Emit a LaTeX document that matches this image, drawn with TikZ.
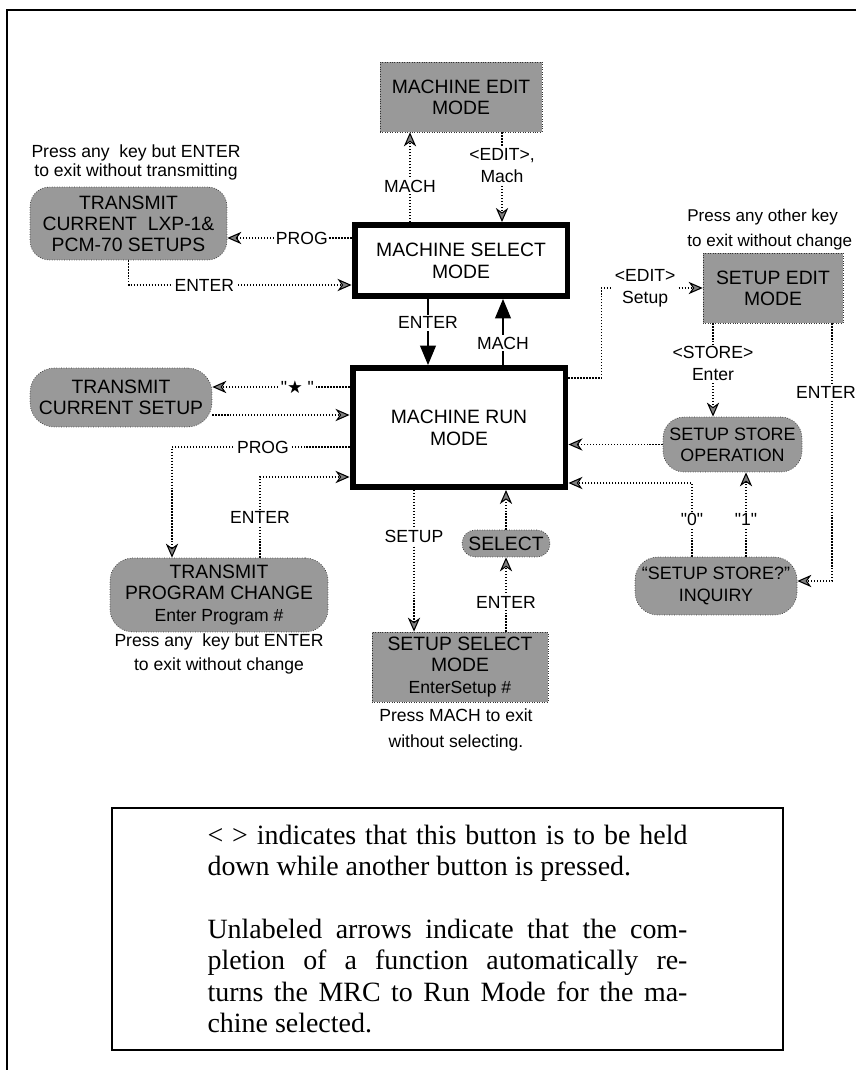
\documentclass[tikz,border=0pt]{standalone}
\usepackage{fontspec}
\newfontfamily\helv{Liberation Sans}
\newfontfamily\legendfont{Liberation Serif}
\newfontfamily\starfont{DejaVu Sans}
\usetikzlibrary{arrows.meta}
\tikzset{
	modebox/.style={draw, line width=3.4pt, inner sep=0pt, align=center, font=\helv\fontsize{11}{12.5}\selectfont},
	shadebox/.style={draw=black!80, densely dotted, fill=black!40, inner sep=0pt, align=center, font=\helv\fontsize{11}{12}\selectfont},
	shadepill/.style={shadebox, rounded corners=#1},
	link/.style={densely dotted, line width=0.7pt},
	hatch/.style={-{Stealth[length=8pt,width=7pt,inset=2.5pt,fill=black!50,line width=0.6pt]}},
	bigtip/.style={-{Triangle[length=11pt,width=9pt]}, line width=0.7pt},
	lbl/.style={fill=white, inner sep=1pt, font=\helv\fontsize{10}{12.5}\selectfont},
	note/.style={inner sep=0pt, align=center, font=\helv\fontsize{10}{13.8}\selectfont}
}

\begin{document}
\begin{tikzpicture}[x=0.02cm,y=-0.02cm]
	%%%%% START %%%%%
	\useasboundingbox (0,0) rectangle (856,1070);
	\draw[line width=1.2pt] (856,10) -| (7,1070);
	
	% mode boxes
	\node[modebox, minimum width=4.26cm, minimum height=1.42cm] (msel) at (461,260.5) {MACHINE SELECT\\MODE};
	\node[modebox, minimum width=4.26cm, minimum height=2.38cm] (mrun) at (459,427.5) {MACHINE RUN\\MODE};
	
	\node[shadebox, minimum width=3.24cm, minimum height=1.4cm] (medit) at (461,97) {MACHINE EDIT\\MODE};
	\node[shadebox, minimum width=2.8cm, minimum height=1.4cm] (sedit) at (773,288) {SETUP EDIT\\MODE};
	\node[shadebox, minimum width=3.52cm, minimum height=1.4cm] (ssel) at (460,667) {SETUP SELECT\\MODE\\{\fontsize{10}{11}\selectfont EnterSetup \#}};
	
	\node[shadepill=11pt, minimum width=3.94cm, minimum height=1.46cm] (txsetups) at (128.5,223.5) {TRANSMIT\\CURRENT\ \ LXP-1\&\\PCM-70 SETUPS};
	\node[shadepill=14pt, minimum width=3.64cm, minimum height=1.18cm] (txcur) at (121,397.5) {TRANSMIT\\CURRENT SETUP};
	\node[shadepill=13pt, minimum width=4.36cm, minimum height=1.48cm] (txprog) at (219,595) {TRANSMIT\\PROGRAM CHANGE\\{\fontsize{10}{11}\selectfont Enter Program \#}};
	\node[shadepill=7.5pt, minimum width=1.76cm, minimum height=0.54cm] (sel) at (506,543.5) {SELECT};
	\node[shadepill=12pt, minimum width=2.78cm, minimum height=1.1cm, font=\helv\fontsize{10.2}{12}\selectfont] (sstore) at (732.5,444.5) {SETUP STORE\\OPERATION};
	\node[shadepill=13pt, minimum width=3.24cm, minimum height=1.16cm, font=\helv\fontsize{10.2}{12.5}\selectfont] (sinq) at (716,586) {“SETUP STORE?”\\INQUIRY};
	
	% notes
	\node[note, font=\helv\fontsize{10}{10.8}\selectfont] (notesetups) at (136,162) {Press any\ \ key but ENTER\\to exit without transmitting};
	\node[note, anchor=west, align=left, font=\helv\fontsize{9.7}{13.8}\selectfont] (noteedit) at (687,229.5) {Press any other key\\to exit without change};
	\node[note] (noteprog) at (219,654) {Press any\ \ key but ENTER\\to exit without change};
	\node[note, font=\helv\fontsize{10}{14.7}\selectfont] (notesel) at (456,730) {Press MACH to exit\\without selecting.};
	
	% connectors
	\draw[link,hatch] (msel.north -| 410,0) -- node[lbl,pos=0.4]{MACH} (medit.south -| 410,0);
	\draw[link,hatch] (medit.south -| 502,0) -- node[lbl,pos=0.37,align=center]{<EDIT>,\\Mach} (msel.north -| 502,0);
	\draw[link,hatch] (msel.west |- 0,238) -- node[lbl,pos=0.4]{PROG} (txsetups.east |- 0,238);
	\draw[link,hatch] (txsetups.south) |- node[lbl,pos=0.67]{ENTER} (msel.west |- 0,285);
	\draw[bigtip] (msel.south -| 428,0) -- node[lbl,pos=0.36]{ENTER} (mrun.north -| 428,0);
	\draw[bigtip] (mrun.north -| 503,0) -- node[lbl,pos=0.33]{MACH} (msel.south -| 503,0);
	
	\draw[link,hatch] (mrun.west |- 0,387) -- node[lbl,pos=0.38]{"{\starfont ★}\ "} (txcur.east |- 0,387);
	\draw[link,hatch] (txcur.east |- 0,415) -- (mrun.west |- 0,415);
	\draw[link,hatch] (mrun.west |- 0,447) -| node[lbl,pos=0.244]{PROG} (txprog.north -| 172,0);
	\draw[link,hatch] (txprog.north -| 260,0) |- node[lbl,pos=0.25]{ENTER} (mrun.west |- 0,477);
	
	\draw[link,hatch] (mrun.south -| 414,0) -- node[lbl,pos=0.33]{SETUP} (ssel.north -| 414,0);
	\draw[link,hatch] (ssel.north -| sel.south) -- node[lbl,pos=0.39]{ENTER} (sel.south);
	\draw[link,hatch] (sel.north) -- (mrun.south -| sel.north);
	
	\draw[link,hatch] (mrun.east |- 0,378) -- ++(33,0) |- node[lbl,pos=0.716,align=center]{<EDIT>\\Setup} (sedit.west);
	\draw[link,hatch] (sedit.south -| 713,0) -- node[lbl,pos=0.43,align=center]{<STORE>\\Enter} (sstore.north -| 713,0);
	\draw[link,hatch] (sstore.west) -- (mrun.east |- sstore.west);
	\draw[link,hatch] (sinq.north -| 692,0) |- node[lbl,pos=0.25]{"0"} (mrun.east |- 0,483);
	\draw[link,hatch] (sinq.north -| 746,0) -- node[lbl,pos=0.44]{"1"} (sstore.south -| 746,0);
	\draw[link,hatch] (sedit.south -| 832,0) |- node[lbl,pos=0.134,xshift=-0.12cm]{ENTER} (sinq.east |- 0,581);
	
	% legend
	\node[draw, line width=1.1pt, minimum width=13.42cm, minimum height=4.84cm, text width=9.6cm, align=justify, font=\legendfont\fontsize{15.9}{17.9}\selectfont] (legend) at (447.5,929) {< > indicates that this button is to be held\linebreak down while another button is pressed.\par\vspace{17.9pt}Unlabeled arrows indicate that the com-\linebreak pletion of a function automatically re-\linebreak turns the MRC to Run Mode for the ma-\linebreak chine selected.};
	%%%%% END %%%%%
\end{tikzpicture}
\end{document}
